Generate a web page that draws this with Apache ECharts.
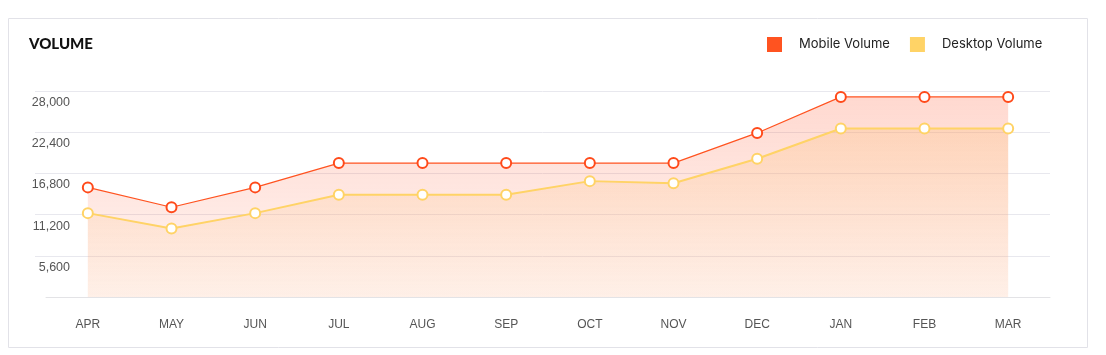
<!DOCTYPE html>
<html>
<head>
<meta charset="utf-8">
<script src="https://cdn.jsdelivr.net/npm/echarts@6/dist/echarts.min.js"></script>
<style>
html,body{margin:0;padding:0;background:#fff;}
#chart{width:1106px;height:355px;}
</style>
</head>
<body>
<div id="chart"></div>
<script>
const months = ['APR','MAY','JUN','JUL','AUG','SEP','OCT','NOV','DEC','JAN','FEB','MAR'];
const mobileVolume = [14900, 12200, 14900, 18200, 18200, 18200, 18200, 18200, 22300, 27200, 27200, 27200];
const desktopVolume = [11400, 9300, 11400, 13900, 13900, 13900, 15750, 15450, 18800, 22900, 22900, 22900];
const yMin = 0, yMax = 28000, yStep = 5600;

const chart = echarts.init(document.getElementById('chart'));
const fmt = v => String(v).replace(/\B(?=(\d{3})+(?!\d))/g, ',');

chart.setOption({
  animation: false,
  title: {
    text: 'VOLUME', left: 24, top: 32,
    textStyle: { fontFamily: 'Lato', fontWeight: 900, fontSize: 15, color: '#111' }
  },
  legend: {
    left: 762, top: 32, itemWidth: 15, itemHeight: 15, itemGap: 20, icon: 'rect',
    textStyle: { fontFamily: 'Inter', fontSize: 13, color: '#222', padding: [0, 0, 0, 12] },
    data: [
      { name: 'Mobile Volume', itemStyle: { color: '#FF5320', borderWidth: 0 } },
      { name: 'Desktop Volume', itemStyle: { color: '#FFD366', borderWidth: 0 } }
    ]
  },
  graphic: [{
    type: 'rect', z: -10, silent: true,
    shape: { x: 8.5, y: 18.5, width: 1079, height: 329 },
    style: { fill: 'none', stroke: '#e2e2e8', lineWidth: 1 }
  }],
  grid: [
    { left: 46, right: 56, top: 91, bottom: 58 },
    { left: 35, right: 56, top: 91, bottom: 58 }
  ],
  xAxis: [{
    type: 'category', gridIndex: 0, data: months, boundaryGap: true,
    axisLine: { lineStyle: { color: '#e3e3e6' } },
    axisTick: { show: false },
    axisLabel: { color: '#555', fontFamily: 'Liberation Sans', fontSize: 12, margin: 22 }
  }, {
    type: 'value', gridIndex: 1, show: false, min: 0, max: 1
  }],
  yAxis: [{
    type: 'value', gridIndex: 0, min: yMin, max: yMax, interval: yStep, show: false
  }, {
    type: 'value', gridIndex: 1, min: yMin, max: yMax, interval: yStep,
    axisLine: { show: false }, axisTick: { show: false },
    splitLine: { showMinLine: false, lineStyle: { color: '#e8e8ee', width: 1 } },
    axisLabel: {
      inside: true, align: 'right', margin: 35, verticalAlign: 'top', padding: [5, 0, 0, 0],
      color: '#555', fontFamily: 'Liberation Sans', fontSize: 12.5, showMinLabel: false,
      formatter: fmt
    }
  }],
  series: [{
    name: 'Mobile Volume', type: 'line', xAxisIndex: 0, yAxisIndex: 0, data: mobileVolume,
    symbol: 'circle', symbolSize: 10, z: 2,
    lineStyle: { color: '#FF5320', width: 1.2 },
    itemStyle: { color: '#fff', borderColor: '#FF4A1A', borderWidth: 2 },
    areaStyle: {
      color: { type: 'linear', x: 0, y: 0, x2: 0, y2: 1, colorStops: [
        { offset: 0, color: 'rgba(255,85,45,0.32)' },
        { offset: 1, color: 'rgba(255,85,45,0.08)' }
      ] }
    }
  }, {
    name: 'Desktop Volume', type: 'line', xAxisIndex: 0, yAxisIndex: 0, data: desktopVolume,
    symbol: 'circle', symbolSize: 10, z: 3,
    lineStyle: { color: '#FFD366', width: 2 },
    itemStyle: { color: '#fff', borderColor: '#FFD366', borderWidth: 2 },
    areaStyle: {
      color: { type: 'linear', x: 0, y: 0, x2: 0, y2: 1, colorStops: [
        { offset: 0, color: 'rgba(252,190,120,0.42)' },
        { offset: 1, color: 'rgba(252,205,165,0.22)' }
      ] }
    }
  }]
});
</script>
</body>
</html>
